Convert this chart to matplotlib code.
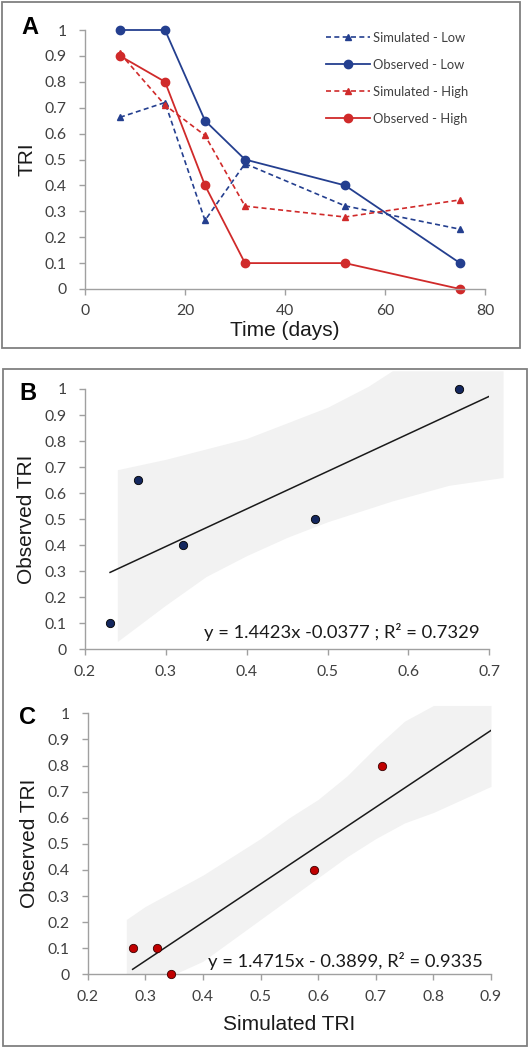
import numpy as np
import matplotlib
matplotlib.use('Agg')
import matplotlib.pyplot as plt
from matplotlib.patches import Rectangle

# panel A data
days = [7, 16, 24, 32, 52, 75]
sim_low = [0.663, 0.72, 0.265, 0.484, 0.321, 0.231]
obs_low = [1.0, 1.0, 0.65, 0.5, 0.4, 0.1]
sim_high = [0.91, 0.71, 0.593, 0.32, 0.278, 0.344]
obs_high = [0.9, 0.8, 0.4, 0.1, 0.1, 0.0]

# panel B / C: which time points went into the regressions
b_idx = [0, 2, 3, 4, 5]
c_idx = [1, 2, 3, 4, 5]
fit_b = (1.4423, -0.0377)
fit_c = (1.4715, -0.3899)
eq_b = 'y = 1.4423x -0.0377 ; R² = 0.7329'
eq_c = 'y = 1.4715x - 0.3899, R² = 0.9335'

# confidence bands
band_b_x = [0.24, 0.30, 0.35, 0.40, 0.45, 0.50, 0.55, 0.58, 0.65, 0.717]
band_b_lo = [0.03, 0.17, 0.28, 0.36, 0.43, 0.49, 0.54, 0.57, 0.63, 0.66]
band_b_hi = [0.69, 0.73, 0.77, 0.81, 0.87, 0.93, 1.01, 1.07, 1.07, 1.07]

band_c_x = [0.267, 0.30, 0.35, 0.40, 0.45, 0.50, 0.55, 0.60, 0.65, 0.70, 0.75, 0.80, 0.85, 0.90]
band_c_lo = [0.0, 0.0, 0.0, 0.05, 0.13, 0.21, 0.29, 0.37, 0.45, 0.52, 0.58, 0.62, 0.67, 0.72]
band_c_hi = [0.21, 0.26, 0.32, 0.38, 0.45, 0.52, 0.60, 0.67, 0.76, 0.87, 0.97, 1.03, 1.03, 1.03]

blue = '#243f8f'
red = '#d02a2a'
spine_col = '#a0a0a0'
tick_col = '#404040'
W, H = 531, 1050

fig = plt.figure(figsize=(W / 100, H / 100), dpi=100)

# panel frames
fig.patches.append(Rectangle((1.5 / W, 1 - 348 / H), 518.5 / W, 346 / H, transform=fig.transFigure,
                             fill=False, edgecolor='#808080', lw=1.3))
fig.patches.append(Rectangle((2.5 / W, 1 - 1046 / H), 524.5 / W, 677 / H, transform=fig.transFigure,
                             fill=False, edgecolor='#808080', lw=1.3))


def style(ax, xticks):
    for s in ['top', 'right']:
        ax.spines[s].set_visible(False)
    for s in ['left', 'bottom']:
        ax.spines[s].set_color(spine_col)
        ax.spines[s].set_linewidth(1.0)
    ax.set_yticks(np.arange(0, 1.01, 0.1))
    ax.set_yticklabels(['0'] + ['%.1f' % v for v in np.arange(0.1, 0.95, 0.1)] + ['1'])
    ax.set_xticks(xticks)
    ax.set_ylim(0, 1)
    ax.set_xlim(xticks[0], xticks[-1])
    ax.tick_params(axis='both', colors=spine_col, length=4, width=1.0, labelcolor=tick_col, labelsize=11.3)
    ax.tick_params(axis='y', pad=9)
    ax.tick_params(axis='x', pad=7)
    for lab in ax.get_xticklabels() + ax.get_yticklabels():
        lab.set_family('Lato')


# ---- A
axA = fig.add_axes([85 / W, 1 - 289 / H, 400 / W, 259 / H])
axA.plot(days, sim_low, '--', color=blue, lw=1.2, marker='^', ms=5, dashes=(3, 2), label='Simulated - Low')
axA.plot(days, obs_low, '-', color=blue, lw=1.3, marker='o', ms=6, label='Observed - Low')
axA.plot(days, sim_high, '--', color=red, lw=1.2, marker='^', ms=5, dashes=(3, 2), label='Simulated - High')
axA.plot(days, obs_high, '-', color=red, lw=1.3, marker='o', ms=6, label='Observed - High')
for ln in axA.lines:
    ln.set_clip_on(False)
style(axA, [0, 20, 40, 60, 80])
axA.set_xticklabels(['0', '20', '40', '60', '80'], family='Lato')
axA.set_ylabel('TRI', family='Liberation Sans', fontsize=15, color='#1a1a1a', labelpad=6)
axA.set_xlabel('Time (days)', family='Liberation Sans', fontsize=15, color='#1a1a1a', labelpad=2)
leg = axA.legend(loc='upper left', bbox_to_anchor=(314 / W, 1 - 20 / H), bbox_transform=fig.transFigure,
                 frameon=False, handlelength=3.4, handletextpad=0.25, labelspacing=1.15,
                 prop={'family': 'Lato', 'size': 9.4})
for t in leg.get_texts():
    t.set_color(tick_col)
fig.text(30 / W, 1 - 27 / H, 'A', family='Liberation Sans', weight='bold', fontsize=17, ha='center', va='center')

# ---- B
xb = np.array(sim_low)[b_idx]
yb = np.array(obs_low)[b_idx]
axB = fig.add_axes([85 / W, 1 - 649.3 / H, 404.3 / W, 260.3 / H])
axB.fill_between(band_b_x, band_b_lo, band_b_hi, color='#f2f2f2', lw=0, clip_on=False, zorder=0)
lx = np.array([xb.min(), 0.7])
axB.plot(lx, fit_b[0] * lx + fit_b[1], color='#1a1a1a', lw=1.1, zorder=2)
axB.scatter(xb, yb, s=36, color='#14275e', edgecolor='#000000', lw=0.6, zorder=3, clip_on=False)
style(axB, [0.2, 0.3, 0.4, 0.5, 0.6, 0.7])
axB.set_xticklabels(['0.2', '0.3', '0.4', '0.5', '0.6', '0.7'], family='Lato')
axB.set_ylabel('Observed TRI', family='Liberation Sans', fontsize=15, color='#1a1a1a', labelpad=6)
axB.text(480 / W, 1 - 632 / H, eq_b, transform=fig.transFigure, ha='right', va='center',
         family='Lato', fontsize=13.2, color='#1a1a1a')
fig.text(28 / W, 1 - 393 / H, 'B', family='Liberation Sans', weight='bold', fontsize=17, ha='center', va='center')

# ---- C
xc = np.array(sim_high)[c_idx]
yc = np.array(obs_high)[c_idx]
axC = fig.add_axes([87.7 / W, 1 - 974.3 / H, 403.3 / W, 261 / H])
axC.fill_between(band_c_x, band_c_lo, band_c_hi, color='#f2f2f2', lw=0, clip_on=False, zorder=0)
lx = np.array([xc.min(), 0.9])
axC.plot(lx, fit_c[0] * lx + fit_c[1], color='#1a1a1a', lw=1.1, zorder=2)
axC.scatter(xc, yc, s=36, color='#c00000', edgecolor='#3a0000', lw=0.6, zorder=3, clip_on=False)
style(axC, [0.2, 0.3, 0.4, 0.5, 0.6, 0.7, 0.8, 0.9])
axC.set_xticklabels(['0.2', '0.3', '0.4', '0.5', '0.6', '0.7', '0.8', '0.9'], family='Lato')
axC.set_ylabel('Observed TRI', family='Liberation Sans', fontsize=15, color='#1a1a1a', labelpad=6)
axC.set_xlabel('Simulated TRI', family='Liberation Sans', fontsize=15, color='#1a1a1a', labelpad=8)
axC.text(483 / W, 1 - 961 / H, eq_c, transform=fig.transFigure, ha='right', va='center',
         family='Lato', fontsize=13.2, color='#1a1a1a')
fig.text(28 / W, 1 - 717 / H, 'C', family='Liberation Sans', weight='bold', fontsize=17, ha='center', va='center')

fig.savefig('out.png', dpi=100)
